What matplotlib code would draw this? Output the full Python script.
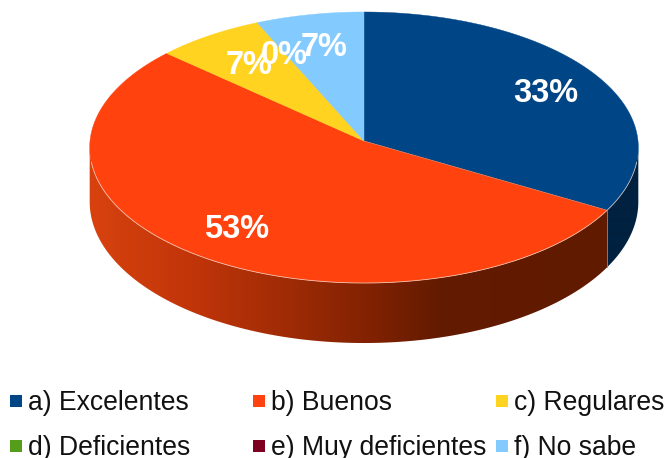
import numpy as np
import matplotlib
matplotlib.use("Agg")
import matplotlib.pyplot as plt
from matplotlib.patches import Polygon

categories = ["a) Excelentes", "b) Buenos", "c) Regulares",
              "d) Deficientes", "e) Muy deficientes", "f) No sabe"]
values = [5, 8, 1, 0, 0, 1]
colors = ["#004586", "#ff420e", "#ffd320", "#579d1c", "#7e0021", "#83caff"]

plt.rcParams["font.family"] = ["Liberation Sans", "DejaVu Sans"]
W, H = 665, 458
fig = plt.figure(figsize=(W / 100, H / 100), dpi=100)
ax = fig.add_axes([0, 0, 1, 1])

CX, CY, RX, RY, P = 364, 141, 274, 135.2, -0.048


def project(theta):
    u, v = np.sin(theta), -np.cos(theta)
    d = 1 + P * v
    return CX + RX * u / d, CY + RY * v / d, v


def gradient(stops):
    xs, cs = zip(*stops)
    rgb = [matplotlib.colors.to_rgb(c) for c in cs]
    grid = np.arange(W) + 0.5
    return np.stack([np.interp(grid, xs, [c[i] for c in rgb]) for i in range(3)], axis=-1)[None, :, :]


side_stops = {
    0: [(600, "#00213f"), (640, "#00213f")],
    1: [(90, "#d8420f"), (200, "#bf3409"), (300, "#9a2a05"),
        (368, "#822202"), (440, "#631b00"), (640, "#5f1a00")],
    2: [(0, "#8a6a10"), (700, "#8a6a10")],
    3: [(0, "#2b4e0e"), (700, "#2b4e0e")],
    4: [(0, "#3f0010"), (700, "#3f0010")],
    5: [(0, "#41657f"), (700, "#41657f")],
}

fractions = np.array(values, dtype=float) / sum(values)
edges = np.concatenate([[0], np.cumsum(fractions)]) * 2 * np.pi

# side wall, split at the rim's widest points so each piece is a simple band
dense = np.linspace(0, 2 * np.pi, 7201)
dense_x = project(dense)[0]
theta_right = dense[np.argmax(dense_x)]
theta_left = dense[np.argmin(dense_x)]

for i in range(len(values)):
    if values[i] == 0:
        continue
    for lo, hi in [(theta_right, theta_left)]:
        a, b = max(edges[i], lo), min(edges[i + 1], hi)
        if b <= a:
            continue
        th = np.linspace(a, b, 400)
        x, y, v = project(th)
        yb = y + 54 + 6 * v
        poly = Polygon(np.c_[np.r_[x, x[::-1]], np.r_[y, yb[::-1]]],
                       closed=True, transform=ax.transData, fc="none", ec="none")
        ax.add_patch(poly)
        im = ax.imshow(gradient(side_stops[i]), extent=(0, W, H, 0), aspect="auto",
                       interpolation="bilinear", zorder=1)
        im.set_clip_path(poly)

# top face
for i in range(len(values)):
    if values[i] == 0:
        continue
    th = np.linspace(edges[i], edges[i + 1], 200)
    x, y, _ = project(th)
    ax.fill(np.r_[CX, x], np.r_[CY, y], facecolor=colors[i], edgecolor=colors[i],
            lw=0.3, zorder=2)

# pale rim along the front edge and the slice boundaries
th = np.linspace(0.55 * np.pi, 1.45 * np.pi, 300)
x, y, _ = project(th)
ax.plot(x, y, color="#f0d8cc", lw=0.6, alpha=0.8, zorder=3)
xj, yj, vj = project(edges[1])
ax.plot([xj, xj], [yj, yj + 54 + 6 * vj], color="#7c8a94", lw=0.6, zorder=3)
ax.plot([CX, xj], [CY, yj], color="#c8b0a0", lw=0.4, alpha=0.7, zorder=3)

# percentage labels
label_xy = [(546, 93), (237, 230), (249, 65), (284, 55), None, (324, 47)]
for i, pos in enumerate(label_xy):
    if pos is None:
        continue
    ax.text(pos[0], pos[1], f"{100 * fractions[i]:.0f}%", color="white",
            fontsize=23.5, fontweight="bold", ha="center", va="center", zorder=5)

# legend
for i, name in enumerate(categories):
    col, row = i % 3, i // 3
    lx = 10 + 243 * col
    ly = 401 + 44.5 * row
    ax.fill([lx, lx + 12, lx + 12, lx], [ly - 6, ly - 6, ly + 6, ly + 6],
            color=colors[i], lw=0, zorder=4)
    ax.text(lx + 18, ly - 0.5, name, fontsize=19.1, color="#111111", ha="left",
            va="center_baseline", zorder=4)

ax.set_xlim(0, W)
ax.set_ylim(H, 0)
ax.axis("off")
fig.savefig("out.png", dpi=100)
